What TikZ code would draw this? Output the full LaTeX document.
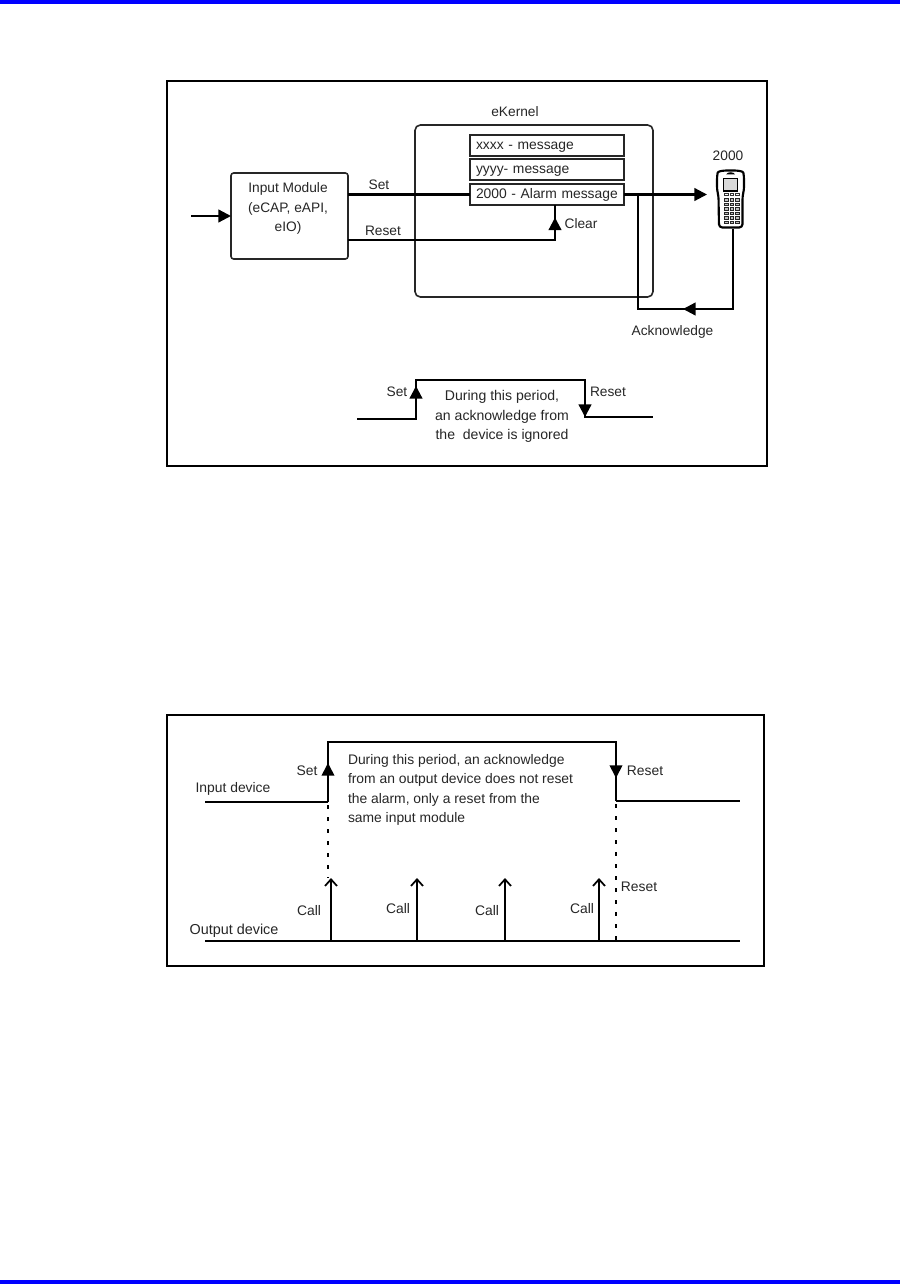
\documentclass[tikz,border=0pt]{standalone}
\usepackage{fontspec}
\setmainfont{Liberation Sans}
\usetikzlibrary{arrows.meta}
\definecolor{ink}{HTML}{262626}
\definecolor{pagebar}{HTML}{0000FF}
\tikzset{
  every node/.style={inner sep=0pt,outer sep=0pt,text=ink},
  lbl/.style={font=\fontsize{10.3}{14.4}\selectfont,align=center},
  lblwide/.style={font=\fontsize{10.55}{14.4}\selectfont,align=center},
  lblsmall/.style={font=\fontsize{10.4}{14.4}\selectfont,align=left},
  lblout/.style={font=\fontsize{10.8}{14.4}\selectfont,align=left},
  frame/.style={draw=black,line width=1.6pt},
  panel/.style={draw=ink,line width=1.2pt,rounded corners=2pt},
  msgbox/.style={draw=ink,line width=1.2pt,minimum width=115.5pt,minimum height=15.75pt,text width=106.5pt,text height=8pt,text depth=2.5pt,font=\fontsize{10.4}{12}\selectfont},
  wire/.style={draw=black,line width=1.7pt},
  thinwire/.style={draw=black,line width=1.3pt},
  dots/.style={draw=black,line width=1.5pt,dash pattern=on 3pt off 6pt,dash phase=6.75pt},
  solidhead/.style={-{Triangle[length=9.5pt,width=9.5pt]}},
  openhead/.style={-{Straight Barb[length=5pt,width=9pt,line width=1.3pt]}},
}
\begin{document}
\begin{tikzpicture}[x=0.75pt,y=-0.75pt]
\useasboundingbox (0,0) rectangle (900,1284);
\fill[pagebar] (0,0) rectangle (900,4);
\fill[pagebar] (0,1280) rectangle (900,1284);
% frames
\node[frame,minimum width=450pt,minimum height=288.75pt] (frameA) at (467,273.5) {};
\node[frame,minimum width=447.75pt,minimum height=188.25pt] (frameB) at (465.5,840.5) {};
% top diagram boxes
\node[panel,rounded corners=4pt,minimum width=178.5pt,minimum height=129pt] (kernel) at (534,211) {};
\node[lbl] (kernellabel) at (515,112) {eKernel};
\node[panel,minimum width=87.75pt,minimum height=64.5pt] (inmod) at (289.5,216) {};
\node[lbl] (inmodlabel) at (288,208.5) {Input Module\\(eCAP, eAPI,\\eIO)};
\node[msgbox] (msgA) at (547,145.5) {xxxx - message};
\node[msgbox] (msgB) at (547,169.5) {yyyy- message};
\node[msgbox] (msgC) at (547,194.5) {2000 - Alarm message};
% handset
\node[minimum width=20pt,minimum height=44pt] (device) at (731,199.5) {};
\draw[black,line width=1.6pt,rounded corners=2.5pt,fill=white]
  (719,227.5) -- (718.5,196) -- (717,190) -- (717,176) .. controls (718,171) and (724,170.5) .. (730.5,170.5)
  .. controls (737,170.5) and (743,171) .. (744,176) -- (744,190) -- (742.5,196) -- (742.5,227.5) -- cycle;
\fill[black] (726,174.5) .. controls (727,171.5) and (734,171.5) .. (735,174.5) -- cycle;
\draw[black,line width=0.9pt,fill=black!15] (723.5,178.5) rectangle (737.5,191);
\foreach \kx in {724.5,730,735.5}{
  \draw[black!80,line width=0.6pt] (\kx,193) rectangle ++(3.5,2.2);
  \foreach \ky in {198.5,203,207.5,212,216.5,221}{
    \draw[black!85,line width=0.7pt,fill=black!25] (\kx,\ky) rectangle ++(3.5,2.8);
  }
}
% top diagram connectors
\coordinate (setstart) at (inmod.east |- msgC.west);
\coordinate (resetstart) at (348,240);
\coordinate (clearbase) at (555,205);
\coordinate (cleartip) at (555,217.5);
\coordinate (corner) at (555,240);
\coordinate (inputstart) at (191,216);
\coordinate (branch) at (638,194.5);
\coordinate (branchlow) at (638,309);
\coordinate (devfoot) at (733,309);
\coordinate (outtip) at (707,194.5);
\coordinate (acktip) at (683,309);
\draw[wire,solidhead] (inputstart) -- (inmod.west);
\draw[wire] (setstart) -- (msgC.west);
\draw[wire] (resetstart) -- (corner) -- (clearbase);
\draw[wire,solidhead] (corner) -- (cleartip);
\draw[wire,solidhead] (msgC.east) -- (outtip);
\draw[wire] (device.south -| devfoot) -- (devfoot) -- (branchlow) -- (branch);
\draw[wire,solidhead] (devfoot) -- (acktip);
\node[lbl] (setA) at (379,184.5) {Set};
\node[lbl] (resetA) at (383,230.5) {Reset};
\node[lbl] (clearA) at (581,224) {Clear};
\node[lbl] (devicelabel) at (728,156) {2000};
\node[lbl] (ack) at (672.5,332) {Acknowledge};
% top waveform
\coordinate (wa0) at (357,419);
\coordinate (wa1) at (416,419);
\coordinate (wa2) at (416,380);
\coordinate (wa3) at (585,380);
\coordinate (wa4) at (585,417);
\coordinate (wa5) at (653,417);
\coordinate (watipset) at (416,386);
\coordinate (watipreset) at (585,417);
\draw[wire] (wa0) -- (wa1) -- (wa2) -- (wa3) -- (wa4) -- (wa5);
\draw[wire,solidhead] (wa1) -- (watipset);
\draw[wire,solidhead] (wa3) -- (watipreset);
\node[lbl] (setB) at (397,392) {Set};
\node[lbl] (resetB) at (608,392) {Reset};
\node[lblwide] (periodA) at (502,416.5) {During this period,\\an acknowledge from\\the\ \ device is ignored};
% lower diagram
\coordinate (wb0) at (205,802);
\coordinate (wb1) at (328,802);
\coordinate (wb2) at (328,742);
\coordinate (wb3) at (616,742);
\coordinate (wb4) at (616,801);
\coordinate (wb5) at (740,801);
\coordinate (wbsettip) at (328,763);
\coordinate (wbresettip) at (616,778);
\coordinate (dota) at (328,878);
\coordinate (dotb) at (616,941);
\coordinate (oa) at (205,941);
\coordinate (ob) at (740,941);
\draw[thinwire] (wb1) -- (wb2) -- (wb3) -- (wb4);
\draw[wire] (wb0) -- (wb1);
\draw[wire] (wb4) -- (wb5);
\draw[wire] (oa) -- (ob);
\draw[thinwire,solidhead] (wb1) -- (wbsettip);
\draw[thinwire,solidhead] (wb3) -- (wbresettip);
\draw[dots] (wb1) -- (dota);
\draw[dots] (wb4) -- (dotb);
\foreach \cx/\cn in {331/a,417/b,505/c,599/d}{
  \coordinate (call\cn b) at (\cx,941);
  \coordinate (call\cn t) at (\cx,878);
  \draw[thinwire,openhead] (call\cn b) -- (call\cn t);
}
\node[lblsmall] (period) at (348,790) [anchor=west] {During this period, an acknowledge\\from an output device does not reset\\the alarm, only a reset from the\\same input module};
\node[lblsmall] (setC) at (307,771) {Set};
\node[lblsmall] (resetC) at (645,771) {Reset};
\node[lblsmall] (inputdev) at (233,789) {Input device};
\node[lblout] (outputdev) at (234,931) {Output device};
\node[lblsmall] (callA) at (309,911) {Call};
\node[lblsmall] (callB) at (398,909) {Call};
\node[lblsmall] (callC) at (487,911) {Call};
\node[lblsmall] (callD) at (582,909) {Call};
\node[lblsmall] (resetD) at (639,887) {Reset};
\end{tikzpicture}
\end{document}
